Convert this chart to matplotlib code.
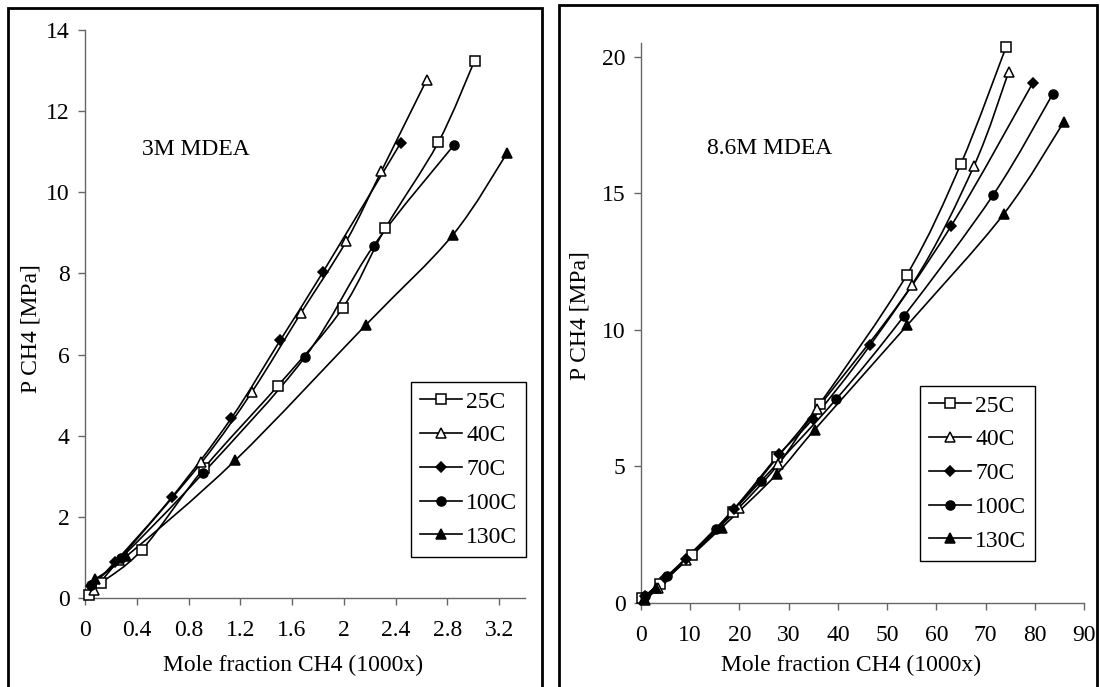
import numpy as np
import matplotlib.pyplot as plt
from matplotlib.path import Path
from matplotlib.patches import PathPatch, Rectangle
from matplotlib.lines import Line2D

plt.rcParams['font.family'] = ['Liberation Serif', 'DejaVu Serif']
plt.rcParams['font.size'] = 17

temps = ['25C', '40C', '70C', '100C', '130C']

# 3M MDEA: mole fraction CH4 (x1000) and pressure [MPa]
x3_25 = [0.03, 0.12, 0.44, 0.92, 1.49, 1.99, 2.32, 2.73, 3.01]
p3_25 = [0.08, 0.36, 1.19, 3.20, 5.23, 7.14, 9.11, 11.23, 13.24]
x3_40 = [0.07, 0.26, 0.90, 1.29, 1.67, 2.02, 2.29, 2.64]
p3_40 = [0.20, 0.93, 3.34, 5.08, 7.03, 8.80, 10.52, 12.77]
x3_70 = [0.05, 0.23, 0.67, 1.13, 1.51, 1.84, 2.44]
p3_70 = [0.30, 0.88, 2.48, 4.43, 6.36, 8.04, 11.22]
x3_100 = [0.05, 0.28, 0.91, 1.70, 2.23, 2.85]
p3_100 = [0.33, 0.99, 3.07, 5.94, 8.68, 11.16]
x3_130 = [0.08, 0.32, 1.16, 2.17, 2.84, 3.26]
p3_130 = [0.47, 1.03, 3.39, 6.73, 8.94, 10.96]

# 8.6M MDEA
x8_25 = [0.2, 3.8, 10.3, 18.6, 27.7, 36.3, 54.0, 65.0, 74.2]
p8_25 = [0.18, 0.71, 1.74, 3.33, 5.33, 7.29, 12.01, 16.08, 20.37]
x8_40 = [0.9, 3.5, 9.2, 19.9, 27.9, 35.8, 55.0, 67.6, 74.7]
p8_40 = [0.12, 0.55, 1.59, 3.49, 5.08, 7.10, 11.64, 15.98, 19.45]
x8_70 = [0.9, 4.9, 9.2, 18.9, 28.1, 34.9, 46.6, 63.0, 79.6]
p8_70 = [0.25, 0.92, 1.62, 3.45, 5.45, 6.74, 9.45, 13.80, 19.04]
x8_100 = [0.9, 5.3, 15.2, 24.3, 39.6, 53.4, 71.6, 83.7]
p8_100 = [0.25, 0.98, 2.72, 4.45, 7.45, 10.50, 14.95, 18.65]
x8_130 = [0.6, 3.1, 16.4, 27.6, 35.3, 54.1, 73.7, 85.9]
p8_130 = [0.15, 0.55, 2.76, 4.72, 6.35, 10.17, 14.24, 17.61]

# marker, face colour, size for each temperature
styles = [('s', 'white', 6.5), ('^', 'white', 7.5), ('D', 'black', 5.5),
          ('o', 'black', 6.5), ('^', 'black', 7.5)]


def smooth_path(x, y):
    # Catmull-Rom style bezier through the points (like spreadsheet "smoothed line")
    pts = np.column_stack([x, y]).astype(float)
    ext = np.vstack([pts[0], pts, pts[-1]])
    verts = [pts[0]]
    codes = [Path.MOVETO]
    for i in range(len(pts) - 1):
        p0, p1, p2, p3 = ext[i], ext[i + 1], ext[i + 2], ext[i + 3]
        verts += [p1 + (p2 - p0) / 6, p2 - (p3 - p1) / 6, p2]
        codes += [Path.CURVE4] * 3
    return Path(verts, codes)


def draw_panel(ax, series, xlim, xticks, ylim, yticks, note, note_xy, ylab_xy, xlab_xy, leg_xy):
    for (x, y), (m, fc, ms) in zip(series, styles):
        ax.add_patch(PathPatch(smooth_path(x, y), fill=False, ec='black', lw=1.2, zorder=2))
        ax.plot(x, y, ls='none', marker=m, mfc=fc, mec='black', mew=1.1, ms=ms, zorder=3, clip_on=False)
    ax.set_xlim(*xlim)
    ax.set_ylim(*ylim)
    ax.set_xticks(xticks)
    ax.set_yticks(yticks)
    ax.set_xticklabels([f'{t:g}' for t in xticks])
    for side in ['top', 'right']:
        ax.spines[side].set_visible(False)
    for side in ['left', 'bottom']:
        ax.spines[side].set_color('#666666')
        ax.spines[side].set_linewidth(1.0)
    ax.tick_params(direction='out', length=5, width=1, color='#666666', labelsize=17)
    ax.tick_params(axis='x', pad=11)
    ax.tick_params(axis='y', pad=6)
    ax.text(note_xy[0], note_xy[1], note, transform=ax.transAxes, fontsize=17, va='center', ha='left')
    ax.set_ylabel('P CH4 [MPa]', fontsize=17)
    ax.yaxis.set_label_coords(*ylab_xy)
    ax.yaxis.label.set_va('center')
    ax.set_xlabel('Mole fraction CH4 (1000x)', fontsize=17)
    ax.xaxis.set_label_coords(*xlab_xy)
    ax.xaxis.label.set_va('center')

    handles = [Line2D([], [], color='black', lw=1.2, marker=m, mfc=fc, mec='black', mew=1.1, ms=ms)
               for m, fc, ms in styles]
    leg = ax.legend(handles, temps, loc='upper left', bbox_to_anchor=leg_xy,
                    bbox_transform=fig.transFigure, borderaxespad=0, fancybox=False,
                    framealpha=1, edgecolor='black', fontsize=17, handlelength=1.8,
                    handletextpad=0.15, labelspacing=0.52, borderpad=0.38)
    leg.get_frame().set_linewidth(1.0)


W, H = 1100, 687
fig = plt.figure(figsize=(11, 6.87), dpi=100)

ax1 = fig.add_axes([85 / W, 1 - 598 / H, 440 / W, 568 / H])
draw_panel(ax1,
           [(x3_25, p3_25), (x3_40, p3_40), (x3_70, p3_70), (x3_100, p3_100), (x3_130, p3_130)],
           (0, 3.4), np.arange(0, 3.21, 0.4).round(1), (0, 14), range(0, 15, 2),
           '3M MDEA', (0.13, 0.79), (-0.123, 0.474), (0.473, -0.118),
           (411 / W, 1 - 382 / H))

ax2 = fig.add_axes([641 / W, 1 - 603 / H, 443 / W, 560 / H])
draw_panel(ax2,
           [(x8_25, p8_25), (x8_40, p8_40), (x8_70, p8_70), (x8_100, p8_100), (x8_130, p8_130)],
           (0, 90), range(0, 91, 10), (0, 20.5), range(0, 21, 5),
           '8.6M MDEA', (0.149, 0.8125), (-0.138, 0.5125), (0.474, -0.111),
           (920 / W, 1 - 386 / H))

# chart-area frames around each panel
fig.add_artist(Rectangle((8 / W, -0.05), 534 / W, 1.05 - 8 / H, transform=fig.transFigure,
                         fill=False, ec='black', lw=2, zorder=5))
fig.add_artist(Rectangle((559 / W, -0.05), 538 / W, 1.05 - 5 / H, transform=fig.transFigure,
                         fill=False, ec='black', lw=2, zorder=5))

fig.savefig('out.png', dpi=100)
